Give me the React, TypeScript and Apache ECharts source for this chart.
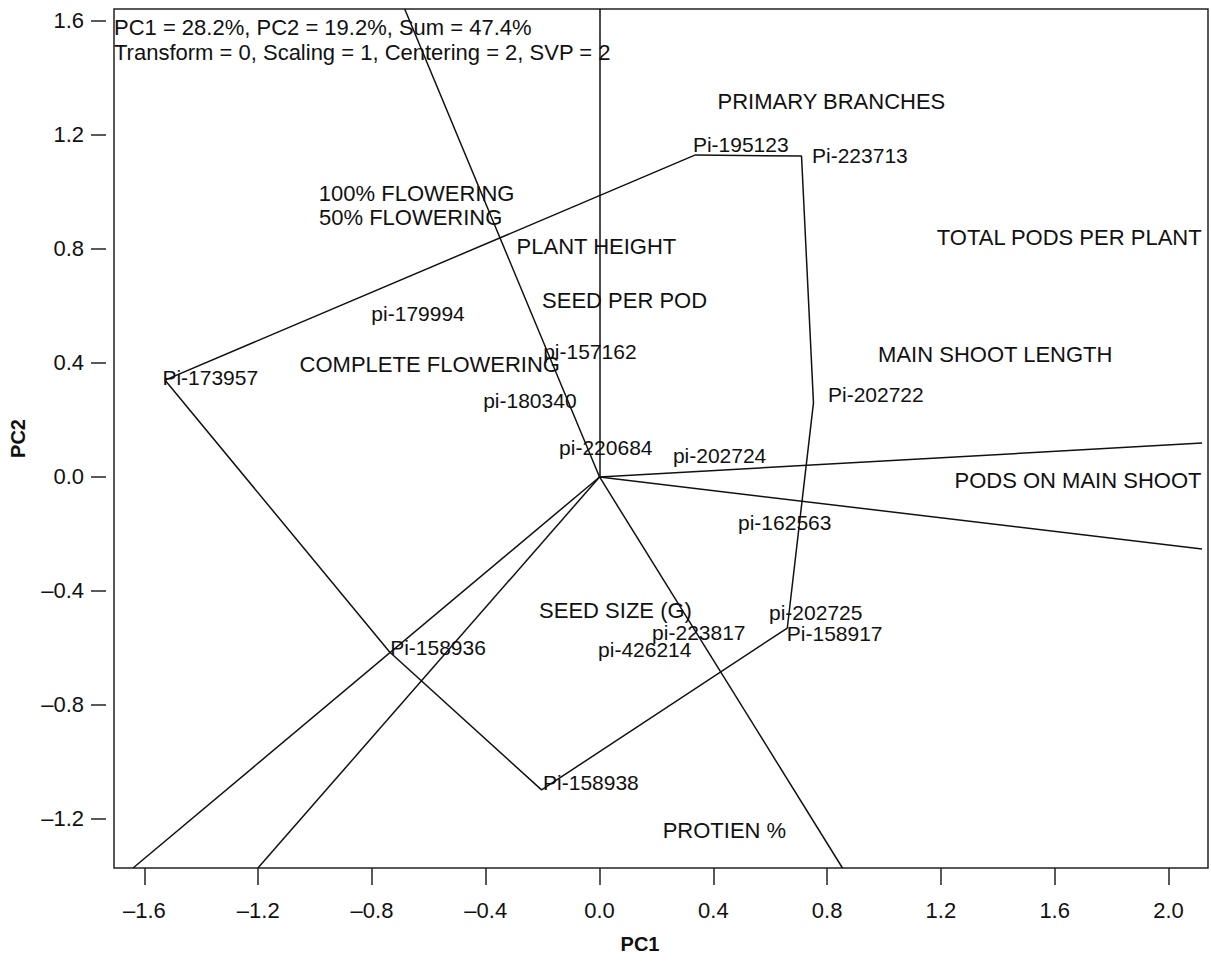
import React, { useEffect, useRef } from "react";
import * as echarts from "echarts";

// ---------- data ----------
const xTicks = [-1.6, -1.2, -0.8, -0.4, 0.0, 0.4, 0.8, 1.2, 1.6, 2.0];
const yTicks = [-1.2, -0.8, -0.4, 0.0, 0.4, 0.8, 1.2, 1.6];

const xRange = [-1.707, 2.139];
const yRange = [-1.372, 1.642];

const headerLines = [
  "PC1 = 28.2%, PC2 = 19.2%, Sum = 47.4%",
  "Transform = 0, Scaling = 1, Centering = 2, SVP = 2",
];

const genotypeNames = [
  "Pi-173957", "Pi-195123", "Pi-223713", "Pi-202722", "Pi-158917", "Pi-158938", "Pi-158936",
  "pi-179994", "pi-157162", "pi-180340", "pi-220684", "pi-202724", "pi-162563",
  "pi-202725", "pi-223817", "pi-426214",
];
const genotypePC1 = [
  -1.528, 0.337, 0.710, 0.752, 0.660, -0.204, -0.738,
  -0.804, -0.200, -0.411, -0.144, 0.256, 0.485,
  0.594, 0.183, -0.007,
];
const genotypePC2 = [
  0.340, 1.130, 1.126, 0.260, -0.530, -1.098, -0.614,
  0.575, 0.439, 0.267, 0.102, 0.074, -0.161,
  -0.477, -0.544, -0.607,
];

const hullOrder = ["Pi-173957", "Pi-195123", "Pi-223713", "Pi-202722", "Pi-158917", "Pi-158938", "Pi-158936"];

const traitNames = [
  "PRIMARY BRANCHES", "100% FLOWERING", "50% FLOWERING", "PLANT HEIGHT",
  "TOTAL PODS PER PLANT", "SEED PER POD", "MAIN SHOOT LENGTH", "COMPLETE FLOWERING",
  "PODS ON MAIN SHOOT", "SEED SIZE (G)", "PROTIEN %",
];
const traitPC1 = [0.815, -0.643, -0.664, -0.011, 1.651, 0.088, 1.391, -0.597, 1.682, 0.056, 0.439];
const traitPC2 = [1.316, 0.996, 0.909, 0.807, 0.839, 0.618, 0.428, 0.393, -0.014, -0.467, -1.239];

// sector rays from the origin, perpendicular to the hull sides
const rayEndPC1 = [0, -0.685, 2.118, 2.118, 0.854, -1.201, -1.640];
const rayEndPC2 = [1.642, 1.642, 0.119, -0.253, -1.372, -1.372, -1.372];

// ---------- style ----------
const FONT = '"Liberation Sans", Arial, Helvetica, sans-serif';
const INK = "#111111";
const labelNudge: Record<string, [number, number]> = {
  "Pi-173957": [-3, -3],
  "Pi-195123": [-3, -10],
  "Pi-223713": [10, -1],
  "Pi-202722": [14, -8],
  "Pi-158917": [-1, 5],
  "Pi-158938": [1, -7],
  "Pi-158936": [0, -4],
};

const fmt = (v: number) => {
  const s = Math.abs(v).toFixed(1);
  return v < -1e-9 ? "\u2013" + s : s;
};

export default function App() {
  const ref = useRef<HTMLDivElement>(null);

  useEffect(() => {
    if (!ref.current) return;
    const chart = echarts.init(ref.current, undefined, { renderer: "svg" });

    const gIndex: Record<string, number> = {};
    genotypeNames.forEach((n, i) => (gIndex[n] = i));
    const hull = hullOrder.map((n) => [genotypePC1[gIndex[n]], genotypePC2[gIndex[n]]]);
    hull.push(hull[0]);

    const option: any = {
      animation: false,
      backgroundColor: "#ffffff",
      title: {
        text: headerLines.join("\n"),
        left: 114,
        top: 15,
        padding: 0,
        textStyle: { fontSize: 22, fontWeight: "normal", color: INK, lineHeight: 25, fontFamily: FONT },
      },
      grid: {
        left: 114,
        right: 3,
        top: 9,
        bottom: 97,
        show: true,
        borderColor: "#222222",
        borderWidth: 1.5,
        backgroundColor: "transparent",
      },
      xAxis: {
        type: "value",
        min: xRange[0],
        max: xRange[1],
        name: "PC1",
        nameLocation: "middle",
        nameGap: 66,
        nameTextStyle: { fontSize: 20, fontWeight: "bold", color: INK, fontFamily: FONT, padding: [0, 42, 0, 0] },
        axisLine: { show: false, onZero: false },
        splitLine: { show: false },
        axisTick: { show: true, length: 17, customValues: xTicks, lineStyle: { color: "#222222", width: 1.5 } },
        axisLabel: {
          customValues: xTicks,
          formatter: fmt,
          fontSize: 22,
          color: INK,
          fontFamily: FONT,
          margin: 31,
        },
      },
      yAxis: {
        type: "value",
        min: yRange[0],
        max: yRange[1],
        offset: 8,
        name: "PC2",
        nameLocation: "middle",
        nameRotate: 90,
        nameGap: 78,
        nameTextStyle: { fontSize: 20, fontWeight: "bold", color: INK, fontFamily: FONT },
        axisLine: { show: false, onZero: false },
        splitLine: { show: false },
        axisTick: { show: true, length: 15, customValues: yTicks, lineStyle: { color: "#222222", width: 1.5 } },
        axisLabel: {
          customValues: yTicks,
          formatter: fmt,
          fontSize: 22,
          color: INK,
          fontFamily: FONT,
          margin: 22,
        },
      },
      series: [
        {
          type: "line",
          name: "hull",
          data: hull,
          symbol: "none",
          lineStyle: { color: "#111111", width: 1.5 },
          z: 3,
        },
        {
          type: "lines",
          name: "rays",
          coordinateSystem: "cartesian2d",
          data: rayEndPC1.map((x, i) => ({ coords: [[0, 0], [x, rayEndPC2[i]]] })),
          lineStyle: { color: "#111111", width: 1.5, opacity: 1 },
          z: 3,
        },
        {
          type: "scatter",
          name: "genotypes",
          symbolSize: 1,
          itemStyle: { color: "rgba(255,255,255,0)", opacity: 1 },
          data: genotypeNames.map((n, i) => ({
            name: n,
            value: [genotypePC1[i], genotypePC2[i]],
            label: labelNudge[n] ? { offset: labelNudge[n] } : undefined,
          })),
          label: {
            show: true,
            position: "right",
            distance: 0,
            formatter: "{b}",
            fontSize: 21,
            color: INK,
            opacity: 1,
            fontFamily: FONT,
          },
          z: 2,
        },
        {
          type: "scatter",
          name: "traits",
          symbolSize: 1,
          itemStyle: { color: "rgba(255,255,255,0)", opacity: 1 },
          data: traitNames.map((n, i) => ({ name: n, value: [traitPC1[i], traitPC2[i]] })),
          label: {
            show: true,
            position: "inside",
            formatter: "{b}",
            fontSize: 22,
            color: INK,
            opacity: 1,
            fontFamily: FONT,
          },
          z: 2,
        },
      ],
    };

    chart.setOption(option);
    return () => chart.dispose();
  }, []);

  return (
    <div
      ref={ref}
      style={{ position: "absolute", left: 0, top: 0, width: 1211, height: 965, background: "#fff" }}
    />
  );
}
